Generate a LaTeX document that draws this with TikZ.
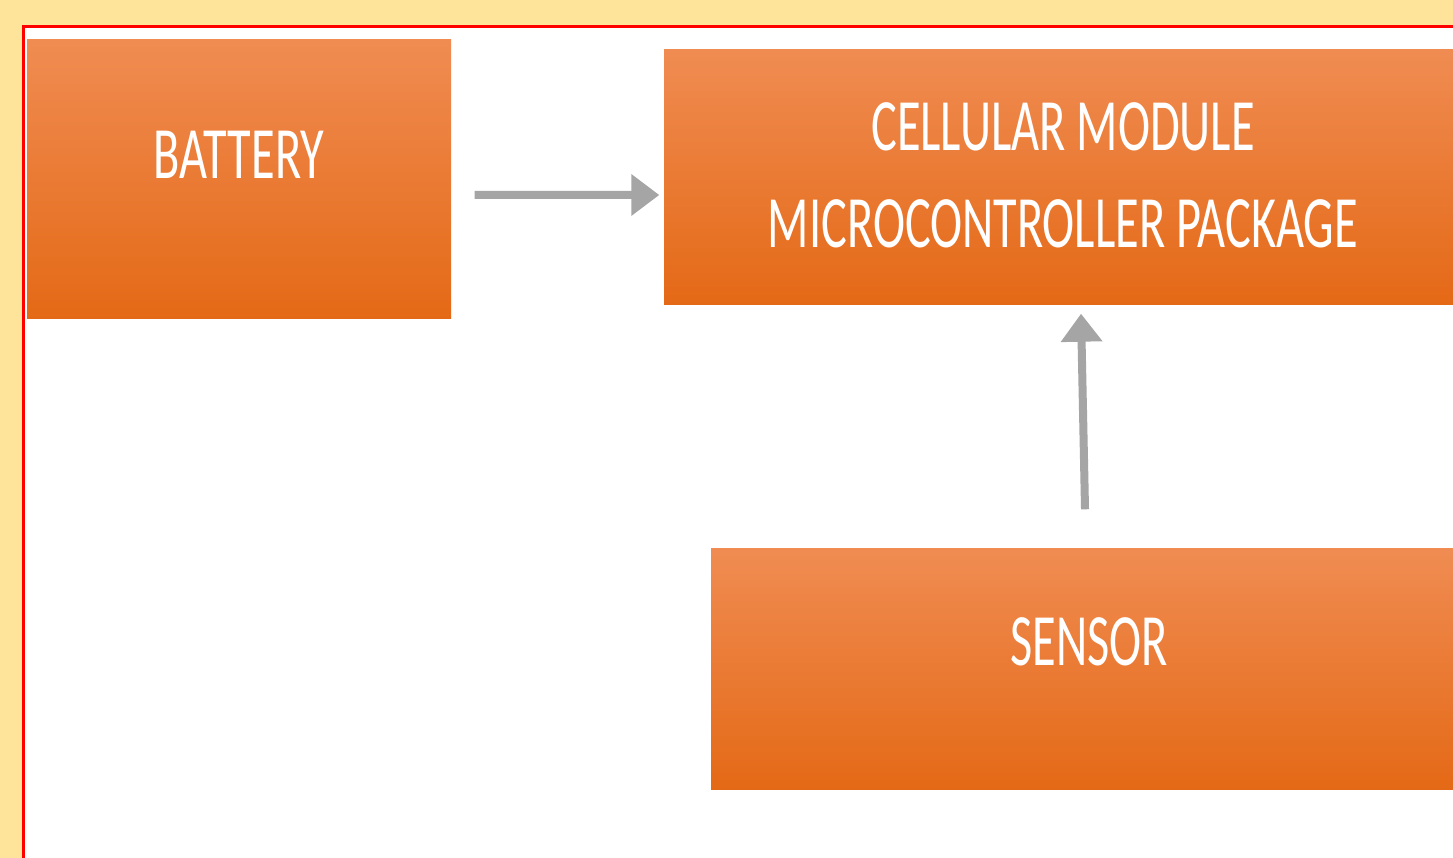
\documentclass[tikz,border=0pt]{standalone}
\usepackage{fontspec}
\setmainfont{Carlito}
\usetikzlibrary{arrows.meta}

\definecolor{pagebg}{RGB}{253,228,154}
\definecolor{boxtop}{RGB}{240,140,82}
\definecolor{boxmid}{RGB}{243,123,38}
\definecolor{boxbot}{RGB}{228,105,22}
\definecolor{arrowgrey}{RGB}{165,165,165}

\newcommand{\squeeze}[1]{\scalebox{0.655}[1]{#1}}

\begin{document}
\begin{tikzpicture}[
  box/.style={rectangle, inner sep=0pt, shading=axis, top color=boxtop, middle color=boxmid, bottom color=boxbot},
  boxtext/.style={text=white, align=center, inner sep=0pt, font=\fontsize{21}{27.6}\selectfont},
  flow/.style={draw=arrowgrey, line width=0.08cm, -{Triangle[length=0.28cm, width=0.40cm]}}
]

\useasboundingbox (0,0) rectangle (14.53,8.58);
\fill[pagebg] (0,0) rectangle (14.53,8.58);
\filldraw[fill=white, draw=red, line width=0.03cm] (0.235,-0.1) rectangle (14.7,8.31);

\node [box, minimum width=4.24cm, minimum height=2.79cm] (battery) at (2.39,6.785) {};
\node [box, minimum width=7.89cm, minimum height=2.55cm] (mcu) at (10.585,6.805) {};
\node [box, minimum width=7.42cm, minimum height=2.41cm] (sensor) at (10.82,1.885) {};

\node [boxtext] (battery-label) at ([yshift=0.245cm]battery.center) {\squeeze{BATTERY}};
\node [boxtext] (mcu-label) at ([shift={(0.045,0.02)}]mcu.center) {\squeeze{CELLULAR MODULE}\\\squeeze{MICROCONTROLLER PACKAGE}};
\node [boxtext] (sensor-label) at ([shift={(0.07,0.275)}]sensor.center) {\squeeze{SENSOR}};

\draw[flow] ([shift={(0.23,-0.155)}]battery.east) -- ([shift={(-0.04,-0.175)}]mcu.west);
\draw[flow] ([shift={(0.03,0.39)}]sensor.north) -- ([shift={(0.225,-0.08)}]mcu.south);

\end{tikzpicture}
\end{document}
